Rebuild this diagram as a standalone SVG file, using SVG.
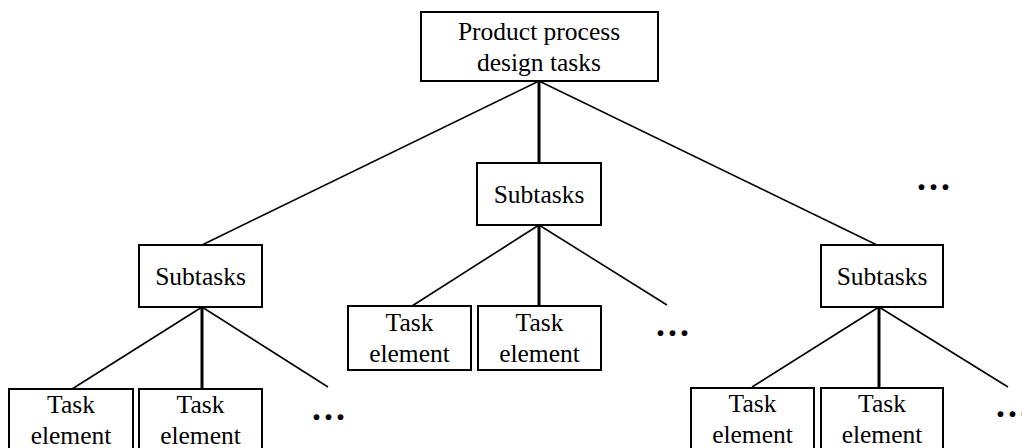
<svg xmlns="http://www.w3.org/2000/svg" width="1022" height="448" viewBox="0 0 1022 448">
<style>
.box{fill:#fff;stroke:#000;stroke-width:2}
.t{font-family:"Liberation Serif","Times New Roman",serif;font-size:25.5px;fill:#000;text-anchor:middle}
.dots{font-family:"Liberation Serif","Times New Roman",serif;font-size:36px;font-weight:bold;fill:#000;letter-spacing:3px}
.ln{stroke:#000;stroke-width:1.6;fill:none}
.vl{stroke:#000;stroke-width:3;fill:none}
</style>
<rect width="1022" height="448" fill="#fff"/>
<g id="connectors">
<line class="ln" x1="539" y1="81" x2="202" y2="245"/>
<line class="vl" x1="539" y1="81" x2="539" y2="163"/>
<line class="ln" x1="539" y1="81" x2="877" y2="245"/>
<line class="ln" x1="539" y1="225" x2="412" y2="306"/>
<line class="vl" x1="539" y1="225" x2="539" y2="306"/>
<line class="ln" x1="539" y1="225" x2="667" y2="305"/>
<line class="ln" x1="202" y1="307" x2="72" y2="389"/>
<line class="vl" x1="202" y1="307" x2="202" y2="389"/>
<line class="ln" x1="202" y1="307" x2="328" y2="387"/>
<line class="ln" x1="879" y1="307" x2="752" y2="387"/>
<line class="vl" x1="879" y1="307" x2="879" y2="387"/>
<line class="ln" x1="879" y1="307" x2="1008" y2="387"/>
</g>
<g id="root">
<rect class="box" x="421" y="12" width="237" height="69"/>
<text class="t" x="539" y="40">Product process</text>
<text class="t" x="539" y="71">design tasks</text>
</g>
<g id="sub-left">
<rect class="box" x="139" y="245" width="123" height="62"/>
<text class="t" x="200.5" y="285">Subtasks</text>
</g>
<g id="sub-mid">
<rect class="box" x="477" y="163" width="124" height="62"/>
<text class="t" x="539" y="203">Subtasks</text>
</g>
<g id="sub-right">
<rect class="box" x="821" y="245" width="122" height="62"/>
<text class="t" x="882" y="285">Subtasks</text>
</g>
<g id="te-l1">
<rect class="box" x="9" y="389" width="124" height="70"/>
<text class="t" x="71" y="413">Task</text>
<text class="t" x="71" y="444">element</text>
</g>
<g id="te-l2">
<rect class="box" x="139" y="389" width="123" height="70"/>
<text class="t" x="200.5" y="413">Task</text>
<text class="t" x="200.5" y="444">element</text>
</g>
<g id="te-m1">
<rect class="box" x="348" y="306" width="123" height="64"/>
<text class="t" x="409.5" y="331">Task</text>
<text class="t" x="409.5" y="362">element</text>
</g>
<g id="te-m2">
<rect class="box" x="478" y="306" width="123" height="64"/>
<text class="t" x="539.5" y="331">Task</text>
<text class="t" x="539.5" y="362">element</text>
</g>
<g id="te-r1">
<rect class="box" x="691" y="388" width="123" height="70"/>
<text class="t" x="752.5" y="412">Task</text>
<text class="t" x="752.5" y="443">element</text>
</g>
<g id="te-r2">
<rect class="box" x="821" y="388" width="122" height="70"/>
<text class="t" x="882" y="412">Task</text>
<text class="t" x="882" y="443">element</text>
</g>
<g id="ellipses">
<text class="dots" x="917" y="190">...</text>
<text class="dots" x="656" y="336">...</text>
<text class="dots" x="312" y="420">...</text>
<text class="dots" x="996" y="417">...</text>
</g>
</svg>
